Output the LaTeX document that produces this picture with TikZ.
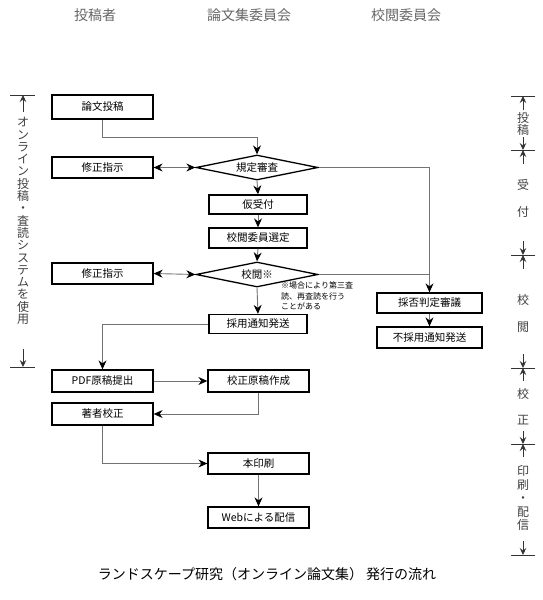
\documentclass[tikz,border=0pt]{standalone}
\usepackage{fontspec}
\setmainfont{Noto Sans CJK JP}
\usetikzlibrary{shapes.geometric,arrows.meta}
\begin{document}
\begin{tikzpicture}[x=1pt,y=-1pt,
  >={Stealth[length=9pt,width=8pt,inset=3pt,color=black]},
  box/.style={draw=black,line width=1.3pt,minimum width=101pt,minimum height=21pt,inner sep=0pt,font=\fontsize{10.5}{12}\selectfont},
  dia/.style={draw=black,line width=1.3pt,shape=diamond,aspect=5,minimum width=122pt,minimum height=25pt,inner sep=0pt,font=\fontsize{10.5}{12}\selectfont},
  conn/.style={draw=black!55,line width=0.9pt},
  head/.style={text=black!60,font=\fontsize{14}{16}\selectfont},
  side/.style={text=black!75,font=\fontsize{12}{12.3}\selectfont,inner sep=0pt,align=center},
  tick/.style={draw=black!80,line width=0.8pt},
  sarr/.style={draw=black!80,line width=0.8pt,-{Stealth[length=7pt,width=6.5pt,inset=2.5pt]}}
]
\path[use as bounding box] (0,0) rectangle (543,600);

% headers
\node[head] (h1) at (95,15) {投稿者};
\node[head] (h2) at (249,15) {論文集委員会};
\node[head] (h3) at (406,15) {校閲委員会};

% boxes
\node[box,minimum height=24pt] (toko) at (102.5,107) {論文投稿};
\node[box] (shusei1) at (102.5,167.5) {修正指示};
\node[dia] (kitei) at (257,167.5) {規定審査};
\node[box,minimum width=98pt,minimum height=19pt] (karuke) at (258,204.5) {仮受付};
\node[box,minimum width=98pt,minimum height=20pt] (senmei) at (258,238) {校閲委員選定};
\node[dia] (koetsu) at (257,274.5) {校閲※};
\node[box] (shusei2) at (102.5,273.5) {修正指示};
\node[box,minimum width=98pt,minimum height=19pt] (saiyo) at (258,324) {採用通知発送};
\node[box,minimum width=105pt,minimum height=20pt] (sahi) at (429.5,303) {採否判定審議};
\node[box,minimum width=105pt,minimum height=21pt] (fusaiyo) at (429.5,337.5) {不採用通知発送};
\node[box,minimum height=22pt] (pdf) at (102.5,381) {PDF原稿提出};
\node[box,minimum height=22pt] (kosei) at (258.5,381) {校正原稿作成};
\node[box,minimum height=22pt] (chosha) at (102.5,414) {著者校正};
\node[box] (hon) at (258.5,463.5) {本印刷};
\node[box] (web) at (258.5,517.5) {Webによる配信};

\node[anchor=north west,align=left,inner sep=0pt,font=\fontsize{8}{10.5}\selectfont] (note) at (281,282) {※場合により第三査\\読、再査読を行う\\ことがある};

% connectors
\coordinate (j1) at (257,137);
\draw[conn,->] (toko.south) |- (j1) -- (kitei.north);
\draw[conn,<->] (shusei1.east) -- (kitei.west);
\draw[conn,->] (kitei.south) -- (karuke.north);
\draw[conn,->] (karuke.south) -- (senmei.north);
\draw[conn,->] (senmei.south) -- (koetsu.north);
\draw[conn,<->] (shusei2.east) -- (koetsu.west);
\draw[conn,->] (koetsu.south) -- (saiyo.north);
\draw[conn,->] (kitei.east) -| (sahi.north);
\draw[conn] (koetsu.east) -- (koetsu.east -| sahi.north);
\draw[conn,->] (sahi.south) -- (fusaiyo.north);
\draw[conn,->] (saiyo.west) -| (pdf.north);
\draw[conn,->] (pdf.east) -- (kosei.west);
\draw[conn,->] (kosei.south) |- (chosha.east);
\draw[conn,->] (chosha.south) |- (hon.west);
\draw[conn,->] (hon.south) -- (web.north);

% left bracket
\coordinate (lt) at (23,95);
\coordinate (lb) at (23,367);
\draw[tick] (10,95) -- (35,95);
\draw[tick] (10,367) -- (35,367);
\coordinate (la1) at (23,112);
\coordinate (la2) at (23,349);
\draw[sarr] (la1) -- (lt);
\draw[sarr] (la2) -- (lb);
\node[side] (ltxt) at (23,221) {オ\\ン\\ラ\\イ\\ン\\投\\稿\\・\\査\\読\\シ\\ス\\テ\\ム\\を\\使\\用};

% right bracket
\foreach \y/\n in {96/r0,150/r1,255/r2,368/r3,444/r4,555/r5}{
  \coordinate (\n) at (523,\y);
  \draw[tick] (511,\y) -- (535,\y);
}
\coordinate (ra0) at (523,110);
\coordinate (rb0) at (523,137);
\draw[sarr] (ra0) -- (r0);
\draw[sarr] (rb0) -- (r1);
\node[side] (t0) at (523,124) {投\\稿};

\coordinate (ra1) at (523,164);
\coordinate (rb1) at (523,241);
\draw[sarr] (ra1) -- (r1);
\draw[sarr] (rb1) -- (r2);
\node[side] (t1a) at (523,185) {受};
\node[side] (t1b) at (523,212) {付};

\coordinate (ra2) at (523,269);
\coordinate (rb2) at (523,354);
\draw[sarr] (ra2) -- (r2);
\draw[sarr] (rb2) -- (r3);
\node[side] (t2a) at (523,300) {校};
\node[side] (t2b) at (523,327) {閲};

\coordinate (ra3) at (523,381);
\coordinate (rb3) at (523,431);
\draw[sarr] (ra3) -- (r3);
\draw[sarr] (rb3) -- (r4);
\node[side] (t3a) at (523,394) {校};
\node[side] (t3b) at (523,420) {正};

\coordinate (ra4) at (523,457);
\coordinate (rb4) at (523,541);
\draw[sarr] (ra4) -- (r4);
\draw[sarr] (rb4) -- (r5);
\node[side,font=\fontsize{12}{13.5}\selectfont] (t4) at (523,498) {印\\刷\\・\\配\\信};

% title
\node[font=\fontsize{14}{16}\selectfont] (title) at (267,574) {ランドスケープ研究（オンライン論文集） 発行の流れ};
\end{tikzpicture}
\end{document}
